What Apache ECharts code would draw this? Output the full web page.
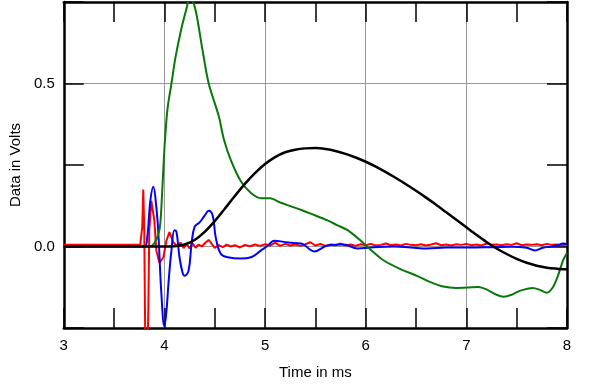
<!DOCTYPE html>
<html><head><meta charset="utf-8">
<script src="https://cdn.jsdelivr.net/npm/echarts@6/dist/echarts.min.js"></script>
<style>html,body{margin:0;padding:0;background:#fff}#c{width:600px;height:386px}</style>
</head><body><div id="c"></div>
<script>
// tick labels
const xTicks = [3, 4, 5, 6, 7, 8];
const yTicks = [0.0, 0.5];

// black: [time ms, volts]
const blackX = [3.0, 4.0, 4.1, 4.2, 4.3, 4.4, 4.5, 4.6, 4.7, 4.8, 4.9, 5.0, 5.1, 5.2, 5.3, 5.4, 5.5, 5.6, 5.7, 5.8, 5.9, 6.0, 6.1, 6.2, 6.3, 6.4, 6.5, 6.6, 6.7, 6.8, 6.9, 7.0, 7.1, 7.2, 7.3, 7.4, 7.5, 7.6, 7.7, 7.8, 7.9, 8.0];
const blackY = [0, 0, 0.001, 0.006, 0.02, 0.045, 0.078, 0.116, 0.155, 0.192, 0.225, 0.253, 0.274, 0.289, 0.297, 0.301, 0.302, 0.299, 0.293, 0.284, 0.273, 0.26, 0.245, 0.228, 0.21, 0.191, 0.171, 0.15, 0.128, 0.105, 0.082, 0.059, 0.036, 0.014, -0.006, -0.023, -0.038, -0.05, -0.059, -0.065, -0.068, -0.07];

const greenX = [3.0, 3.85, 3.9, 3.95, 3.97, 4.0, 4.03, 4.07, 4.11, 4.17, 4.22, 4.25, 4.28, 4.32, 4.38, 4.44, 4.54, 4.59, 4.66, 4.76, 4.86, 4.96, 5.05, 5.15, 5.26, 5.36, 5.46, 5.62, 5.72, 5.82, 5.95, 6.05, 6.18, 6.35, 6.51, 6.65, 6.77, 6.9, 7.01, 7.12, 7.21, 7.3, 7.37, 7.45, 7.53, 7.66, 7.73, 7.8, 7.86, 7.91, 7.96, 8.0];
const greenY = [0, 0, 0.01, 0.05, 0.12, 0.30, 0.42, 0.50, 0.58, 0.67, 0.73, 0.76, 0.755, 0.71, 0.60, 0.50, 0.40, 0.33, 0.265, 0.2, 0.164, 0.148, 0.148, 0.135, 0.123, 0.112, 0.10, 0.08, 0.065, 0.05, 0.018, -0.01, -0.043, -0.07, -0.09, -0.11, -0.123, -0.127, -0.126, -0.124, -0.133, -0.148, -0.154, -0.148, -0.136, -0.127, -0.133, -0.142, -0.125, -0.09, -0.043, -0.02];

const blueX = [3.0, 3.80, 3.83, 3.86, 3.89, 3.92, 3.94, 3.97, 4.0, 4.02, 4.04, 4.07, 4.10, 4.12, 4.15, 4.18, 4.20, 4.24, 4.27, 4.30, 4.35, 4.40, 4.44, 4.48, 4.51, 4.56, 4.63, 4.76, 4.86, 4.96, 5.03, 5.09, 5.23, 5.36, 5.49, 5.62, 5.78, 5.92, 6.05, 6.28, 6.45, 6.61, 6.8, 7.0, 7.27, 7.45, 7.6, 7.68, 7.76, 7.90, 7.96, 8.0];
const blueY = [0, 0, 0.03, 0.14, 0.183, 0.12, 0.04, -0.145, -0.245, -0.2, -0.115, -0.012, 0.05, 0.045, -0.033, -0.08, -0.09, -0.074, 0.009, 0.06, 0.074, 0.095, 0.11, 0.095, 0.028, -0.022, -0.033, -0.037, -0.033, -0.012, 0.003, 0.018, 0.012, 0.009, -0.015, 0.003, 0.006, -0.006, -0.003, 0.0, -0.003, -0.006, -0.003, -0.003, -0.002, -0.001, -0.004, -0.012, -0.004, 0.003, 0.009, 0.008];

const redX = [3.0, 3.76, 3.78, 3.79, 3.80, 3.81, 3.83, 3.84, 3.85, 3.87, 3.88, 3.90, 3.92, 3.95, 3.99, 4.02, 4.05, 4.09, 4.13, 4.16, 4.19, 4.22, 4.25, 4.28, 4.31, 4.34, 4.37, 4.41, 4.44, 4.47, 4.5, 4.54, 4.58, 4.62, 4.66, 4.70, 4.75, 4.8, 4.85, 4.9, 4.95, 5.0, 5.05, 5.1, 5.15, 5.2, 5.25, 5.3, 5.35, 5.4, 5.45, 5.5, 5.55, 5.6, 5.65, 5.7, 5.75, 5.8, 5.85, 5.9, 5.95, 6.0, 6.05, 6.1, 6.15, 6.2, 6.25, 6.3, 6.35, 6.4, 6.45, 6.5, 6.55, 6.6, 6.65, 6.7, 6.75, 6.8, 6.85, 6.9, 6.95, 7.0, 7.05, 7.1, 7.15, 7.2, 7.25, 7.3, 7.35, 7.4, 7.45, 7.5, 7.55, 7.6, 7.65, 7.7, 7.75, 7.8, 7.85, 7.9, 7.95, 8.0];
const redY = [0.005, 0.005, 0.06, 0.175, 0.05, -0.3, -0.35, -0.2, 0.05, 0.14, 0.146, 0.08, -0.012, -0.05, -0.033, 0.018, 0.044, 0.012, 0.0, 0.012, -0.005, 0.008, -0.006, 0.01, -0.004, 0.006, 0.0, 0.012, 0.02, 0.008, -0.004, 0.004, -0.002, 0.006, 0.0, 0.004, -0.003, 0.005, 0.001, 0.006, 0.002, 0.007, 0.003, 0.012, 0.002, 0.008, 0.003, 0.006, 0.002, 0.007, 0.013, 0.003, 0.008, 0.002, 0.006, 0.004, 0.009, 0.003, 0.006, 0.002, 0.007, 0.004, 0.008, 0.003, 0.005, 0.009, 0.004, 0.006, 0.003, 0.008, 0.005, 0.004, 0.007, 0.003, 0.006, 0.01, 0.004, 0.006, 0.003, 0.007, 0.005, 0.008, 0.004, 0.006, 0.003, 0.009, 0.005, 0.006, 0.004, 0.007, 0.005, 0.01, 0.004, 0.006, 0.005, 0.007, 0.004, 0.008, 0.005, 0.006, 0.004, 0.006];

const zip = (xs, ys) => xs.map((x, i) => [x, ys[i]]);
const font = 'Liberation Sans, Arial, sans-serif';
const lineBlack = { show: true, onZero: false, lineStyle: { color: '#000', width: 2.5 } };
const tickStyle = { show: true, inside: true, length: 20, lineStyle: { color: '#000', width: 1.5 } };

const chart = echarts.init(document.getElementById('c'), null, { renderer: 'canvas' });
chart.setOption({
  animation: false,
  backgroundColor: '#fff',
  grid: { left: 62, right: 33, top: 2, bottom: 58, containLabel: false },
  xAxis: [
    { type: 'value', min: 3, max: 8, interval: 0.5, position: 'bottom',
      axisLine: lineBlack, axisTick: tickStyle,
      axisLabel: { margin: 10, color: '#000', fontFamily: font, fontSize: 15,
        formatter: v => (xTicks.indexOf(v) >= 0 ? String(v) : '') },
      splitLine: { show: false },
      name: 'Time in ms', nameLocation: 'middle', nameGap: 37,
      nameTextStyle: { color: '#000', fontFamily: font, fontSize: 15 } },
    { type: 'value', min: 3, max: 8, interval: 0.5, position: 'top',
      axisLine: lineBlack, axisTick: tickStyle,
      axisLabel: { show: false }, splitLine: { show: false } },
    { type: 'value', min: 3, max: 8, interval: 1, position: 'bottom',
      axisLine: { show: false }, axisTick: { show: false }, axisLabel: { show: false },
      splitLine: { show: true, lineStyle: { color: '#999', width: 1 } } }
  ],
  yAxis: [
    { type: 'value', min: -0.25, max: 0.75, interval: 0.25, position: 'left',
      axisLine: lineBlack, axisTick: tickStyle,
      axisLabel: { margin: 9, color: '#000', fontFamily: font, fontSize: 15,
        formatter: v => (yTicks.some(t => Math.abs(t - v) < 1e-9) ? v.toFixed(1) : '') },
      splitLine: { show: true, lineStyle: { color: ['rgba(0,0,0,0)', '#999'], width: 1 } },
      name: 'Data in Volts', nameLocation: 'middle', nameGap: 40,
      nameTextStyle: { color: '#000', fontFamily: font, fontSize: 15 } },
    { type: 'value', min: -0.25, max: 0.75, interval: 0.25, position: 'right',
      axisLine: lineBlack, axisTick: tickStyle,
      axisLabel: { show: false }, splitLine: { show: false } }
  ],
  series: [
    { type: 'line', data: zip(redX, redY), showSymbol: false, clip: true, smooth: false,
      lineStyle: { color: '#ff0000', width: 2 }, z: 3 },
    { type: 'line', data: zip(blueX, blueY), showSymbol: false, clip: true, smooth: 0.4,
      lineStyle: { color: '#0000ff', width: 2 }, z: 4 },
    { type: 'line', data: zip(greenX, greenY), showSymbol: false, clip: true, smooth: 0.3,
      lineStyle: { color: '#087808', width: 2 }, z: 5 },
    { type: 'line', data: zip(blackX, blackY), showSymbol: false, clip: true, smooth: 0.3,
      lineStyle: { color: '#000000', width: 2.5 }, z: 6 }
  ]
});
</script></body></html>
